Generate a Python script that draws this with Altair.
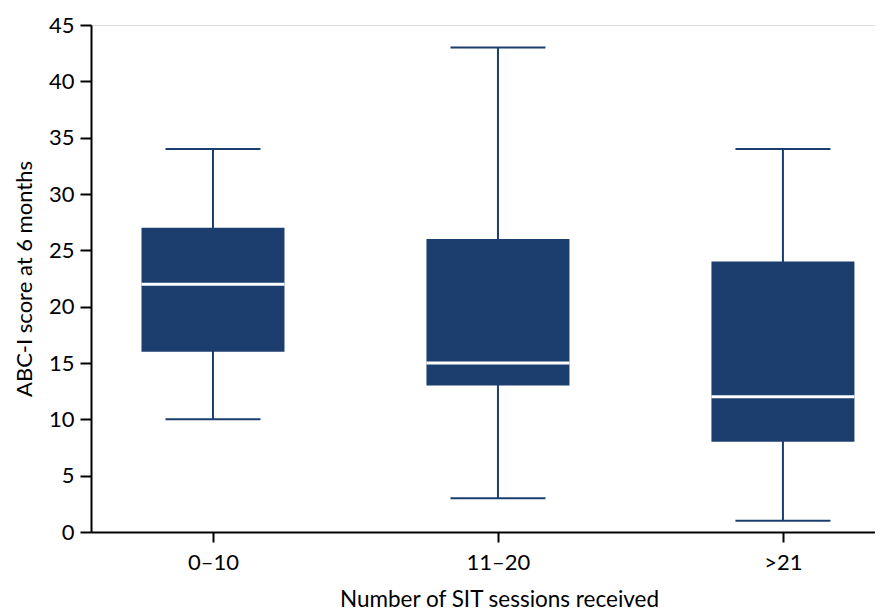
import altair as alt
import pandas as pd

categories = ["0–10", "11–20", ">21"]
positions = [1, 2, 3]
mins = [10, 3, 1]
q1s = [16, 13, 8]
medians = [22, 15, 12]
q3s = [27, 26, 24]
maxs = [34, 43, 34]

df = pd.DataFrame({"cat": categories, "pos": positions, "min": mins, "q1": q1s,
                   "median": medians, "q3": q3s, "max": maxs})

color = "#1b3e6f"
label_expr = " : ".join(
    [f"datum.value == {p} ? '{c}'" for p, c in zip(positions[:-1], categories[:-1])]
) + f" : '{categories[-1]}'"

x = alt.X("pos:Q", scale=alt.Scale(domain=[0.5895, 3.3055], nice=False, zero=False),
          axis=alt.Axis(values=positions, labelExpr=label_expr, title="Number of SIT sessions received",
                        grid=False, tickSize=10, tickWidth=2, domainWidth=2, domainColor="black",
                        tickColor="black", labelPadding=10, titlePadding=15, labelFontSize=22,
                        titleFontSize=22.5, labelColor="black", titleColor="black",
                        titleX=408, titleAlign="center",
                        titleFontWeight="normal", labelFont="Lato", titleFont="Lato"))
yscale = alt.Scale(domain=[0, 45], nice=False)
yaxis = alt.Axis(values=list(range(0, 46, 5)), title="ABC-I score at 6 months", grid=False,
                 tickSize=11, tickWidth=2, domainWidth=2, domainColor="black", tickColor="black",
                 labelPadding=6, titlePadding=12, labelFontSize=22, titleFontSize=22,
                 labelColor="black", titleColor="black", titleFontWeight="normal",
                 labelFont="Lato", titleFont="Lato")

base = alt.Chart(df)
whisk = base.mark_rule(color=color, strokeWidth=2).encode(
    x=x, y=alt.Y("min:Q", scale=yscale, axis=yaxis), y2="max:Q")
caps_lo = base.mark_tick(color=color, orient="horizontal", size=95, thickness=2, opacity=1).encode(
    x="pos:Q", y="min:Q")
caps_hi = base.mark_tick(color=color, orient="horizontal", size=95, thickness=2, opacity=1).encode(
    x="pos:Q", y="max:Q")
box = base.mark_bar(color=color, size=143, opacity=1).encode(x="pos:Q", y="q1:Q", y2="q3:Q")
med = base.mark_tick(color="white", orient="horizontal", size=143, thickness=3, opacity=1).encode(
    x="pos:Q", y="median:Q")

chart = alt.layer(whisk, caps_lo, caps_hi, box, med).properties(
    width=784, height=507,
    autosize=alt.AutoSizeParams(type="none"),
    padding={"left": 83, "top": 17, "right": 0, "bottom": 80},
).configure_view(stroke=None).configure(font="Lato")

chart.save("out.html", embed_options={"renderer": "svg", "actions": False})
